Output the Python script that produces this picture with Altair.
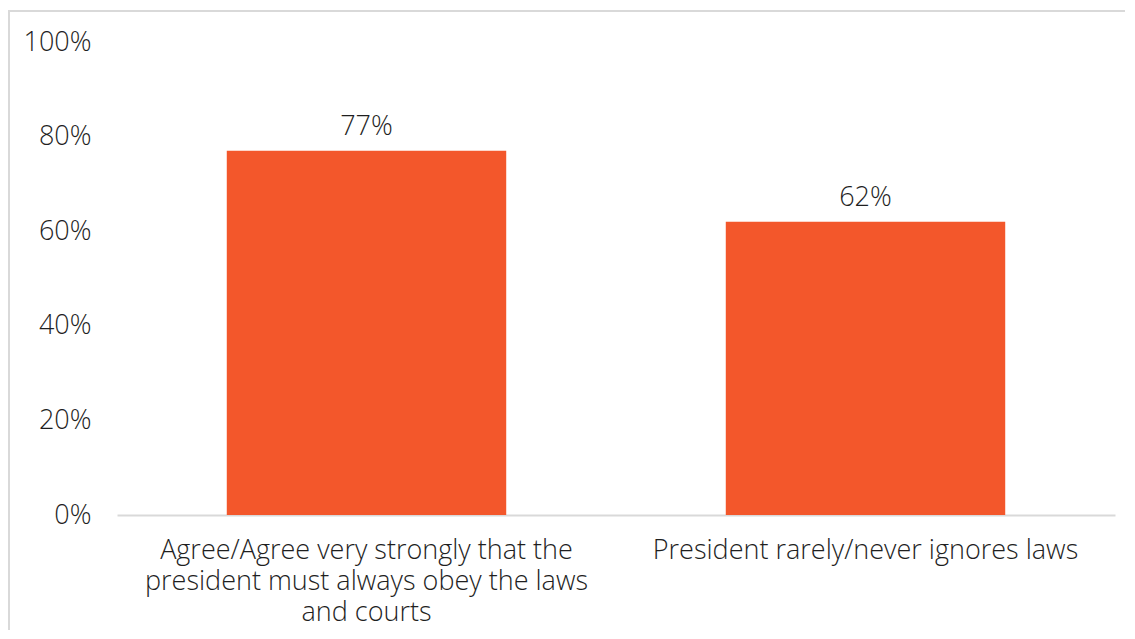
import altair as alt
import pandas as pd

categories = [
    "Agree/Agree very strongly that the|president must always obey the laws|and courts",
    "President rarely/never ignores laws",
]
values = [0.77, 0.62]
y_ticks = [0, 0.2, 0.4, 0.6, 0.8, 1.0]

df = pd.DataFrame({"category": categories, "value": values})

FONT = "Open Sans"
TEXT = "#1f1f1f"
BAR = "#F3572B"
FS = 27
FW = 300

x_enc = alt.X(
    "category:N",
    sort=categories,
    title=None,
    scale=alt.Scale(paddingInner=0.44, paddingOuter=0.22),
    axis=alt.Axis(
        labelAngle=0,
        labelExpr="split(datum.label, '|')",
        labelFontSize=FS,
        labelFont=FONT,
        labelFontWeight=FW,
        labelColor=TEXT,
        labelLineHeight=31,
        labelPadding=22,
        labelLimit=600,
        ticks=False,
        domainColor="#d9d9d9",
        domainWidth=2,
        labelBaseline="top",
    ),
)
y_enc = alt.Y(
    "value:Q",
    title=None,
    scale=alt.Scale(domain=[0, 1], nice=False),
    axis=alt.Axis(
        values=y_ticks,
        format=".0%",
        labelFontSize=FS,
        labelFont=FONT,
        labelFontWeight=FW,
        labelColor=TEXT,
        labelPadding=26,
        ticks=False,
        domain=False,
        grid=False,
    ),
)

bars = alt.Chart(df).mark_bar(color=BAR).encode(x=x_enc, y=y_enc)

labels = alt.Chart(df).mark_text(
    baseline="bottom", dy=-10, fontSize=FS, font=FONT, fontWeight=FW, color=TEXT
).encode(x=alt.X("category:N", sort=categories), y="value:Q", text=alt.Text("value:Q", format=".0%"))

frame = alt.Chart(df).mark_rect(
    fill=None, stroke="#d9d9d9", strokeWidth=2, clip=False
).encode(
    x=alt.value(-108), x2=alt.value(1300), y=alt.value(-31), y2=alt.value(800)
)

chart = alt.layer(frame, bars, labels).properties(
    width=998,
    height=473,
    padding={"left": 109, "top": 34, "right": 10, "bottom": 115},
    autosize=alt.AutoSizeParams(type="none"),
).configure(background="white").configure_view(stroke=None)

chart.save("out.html", embed_options={"renderer": "svg", "actions": False})
